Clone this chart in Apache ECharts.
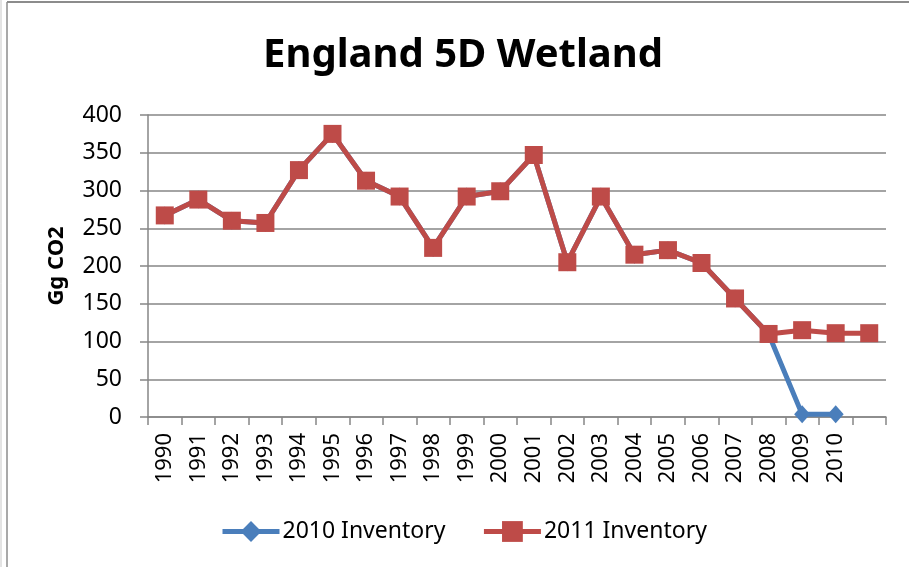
<!DOCTYPE html>
<html>
<head>
<meta charset="utf-8">
<script src="https://cdn.jsdelivr.net/npm/echarts@6/dist/echarts.min.js"></script>
<style>
  html, body { margin: 0; padding: 0; background: #fff; }
  #main { width: 909px; height: 567px; }
</style>
</head>
<body>
<div id="main"></div>
<script>
var years = ["1990", "1991", "1992", "1993", "1994", "1995", "1996", "1997", "1998", "1999", "2000",
             "2001", "2002", "2003", "2004", "2005", "2006", "2007", "2008", "2009", "2010", ""];
// 2010 inventory (same as 2011 up to 2008, then near zero)
var inv2010 = [267, 288, 260, 257, 327, 375, 313, 292, 224, 292, 299,
               347, 205, 292, 215, 221, 204, 157, 110, 3.5, 3.5];
// 2011 inventory
var inv2011 = [267, 288, 260, 257, 327, 375, 313, 292, 224, 292, 299,
               347, 205, 292, 215, 221, 204, 157, 110, 115, 111, 111];
var yTicks = [0, 50, 100, 150, 200, 250, 300, 350, 400];

var myChart = echarts.init(document.getElementById("main"));

var option = {
    animation: false,
    backgroundColor: "#fff",
    title: {
        text: "England 5D Wetland",
        left: 258,
        top: 31,
        textStyle: { fontFamily: "Noto Sans", fontWeight: "bold", fontSize: 40, color: "#000" }
    },
    grid: { left: 148, right: 23, top: 115, bottom: 150 },
    legend: {
        bottom: 19,
        left: 215,
        itemWidth: 57,
        itemHeight: 26,
        itemGap: 36,
        lineStyle: { width: 5 },
        textStyle: { fontFamily: "Noto Sans", fontSize: 23, color: "#000", padding: [0, 0, 0, -2] },
        data: ["2010 Inventory", "2011 Inventory"]
    },
    xAxis: {
        type: "category",
        data: years,
        boundaryGap: true,
        axisLine: { lineStyle: { color: "#868686", width: 1.5 } },
        axisTick: { show: true, length: 8, alignWithLabel: false, lineStyle: { color: "#868686", width: 1.5 } },
        axisLabel: { rotate: 90, margin: 16, interval: 0, fontFamily: "Noto Sans", fontSize: 22, color: "#000" },
        splitLine: { show: false }
    },
    yAxis: {
        type: "value",
        min: yTicks[0],
        max: yTicks[yTicks.length - 1],
        interval: 50,
        name: "Gg CO2",
        nameLocation: "middle",
        nameGap: 80,
        nameRotate: 90,
        nameTextStyle: { fontFamily: "Noto Sans", fontWeight: "bold", fontSize: 22, color: "#000" },
        axisLine: { show: true, lineStyle: { color: "#868686", width: 1.5 } },
        axisTick: { show: true, length: 8, lineStyle: { color: "#868686", width: 1.5 } },
        axisLabel: { margin: 26, fontFamily: "Noto Sans", fontSize: 23, color: "#000" },
        splitLine: { show: true, lineStyle: { color: "#868686", width: 1.5 } }
    },
    graphic: [
        { type: "line", shape: { x1: 7, y1: 2, x2: 909, y2: 2 }, style: { stroke: "#8c8c8c", lineWidth: 2 } },
        { type: "line", shape: { x1: 7, y1: 2, x2: 7, y2: 567 }, style: { stroke: "#8c8c8c", lineWidth: 1.5 } },
        { type: "line", shape: { x1: 1, y1: 0, x2: 1, y2: 567 }, style: { stroke: "#c8c8c8", lineWidth: 1 } }
    ],
    series: [
        {
            name: "2010 Inventory",
            type: "line",
            data: inv2010,
            symbol: "diamond",
            symbolSize: [16, 18],
            lineStyle: { color: "#4A7EBB", width: 5 },
            itemStyle: { color: "#4A7EBB" },
            z: 2
        },
        {
            name: "2011 Inventory",
            type: "line",
            data: inv2011,
            symbol: "rect",
            symbolSize: 18,
            lineStyle: { color: "#BE4B48", width: 5 },
            itemStyle: { color: "#BE4B48" },
            z: 3
        }
    ]
};

myChart.setOption(option);
window.addEventListener("resize", function () {
    myChart.resize();
});
</script>
</body>
</html>
